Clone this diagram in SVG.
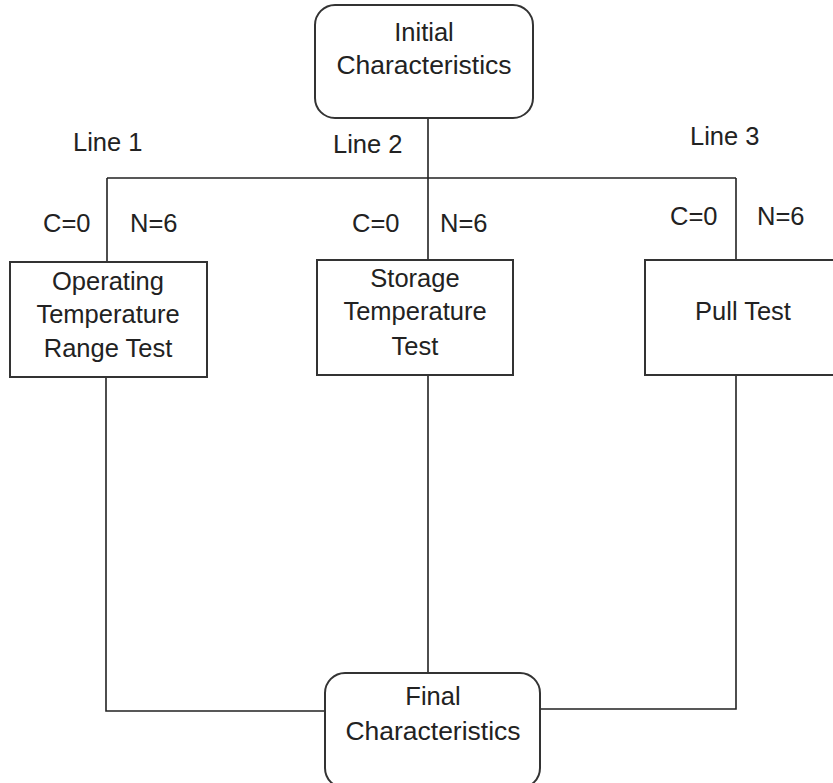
<svg xmlns="http://www.w3.org/2000/svg" width="833" height="783" viewBox="0 0 833 783">
<style>
.box{fill:#fff;stroke:#333;stroke-width:2}
.ln{fill:none;stroke:#222;stroke-width:1.6}
text{font-family:"Liberation Sans",Arial,sans-serif;font-size:25.5px;fill:#222}
.c{text-anchor:middle}
</style>
<rect width="833" height="783" fill="#fff"/>
<g id="connectors">
<path class="ln" d="M428 118V178M107 178H736M107 178V262M428 178V260M736 178V260"/>
<path class="ln" d="M106 377V711H325M428 375V673M736 375V709H540"/>
</g>
<g id="labels">
<text x="73" y="151">Line 1</text>
<text x="333" y="153">Line 2</text>
<text x="690" y="145">Line 3</text>
<text x="43" y="232">C=0</text>
<text x="130" y="232">N=6</text>
<text x="352" y="232">C=0</text>
<text x="440" y="232">N=6</text>
<text x="670" y="225">C=0</text>
<text x="757" y="225">N=6</text>
</g>
<g id="initial">
<rect class="box" x="315" y="5" width="218" height="113" rx="20"/>
<text class="c" x="424" y="41">Initial</text>
<text class="c" x="424" y="74" textLength="175" lengthAdjust="spacingAndGlyphs">Characteristics</text>
</g>
<g id="operating">
<rect class="box" x="10" y="262" width="197" height="115"/>
<text class="c" x="108" y="290">Operating</text>
<text class="c" x="108" y="323">Temperature</text>
<text class="c" x="108" y="357">Range Test</text>
</g>
<g id="storage">
<rect class="box" x="317" y="260" width="196" height="115"/>
<text class="c" x="415" y="287">Storage</text>
<text class="c" x="415" y="320">Temperature</text>
<text class="c" x="415" y="355">Test</text>
</g>
<g id="pull">
<rect class="box" x="645" y="260" width="196" height="115"/>
<text class="c" x="743" y="320">Pull Test</text>
</g>
<g id="final">
<rect class="box" x="325" y="673" width="215" height="115" rx="20"/>
<text class="c" x="433" y="705">Final</text>
<text class="c" x="433" y="740" textLength="175" lengthAdjust="spacingAndGlyphs">Characteristics</text>
</g>
</svg>
